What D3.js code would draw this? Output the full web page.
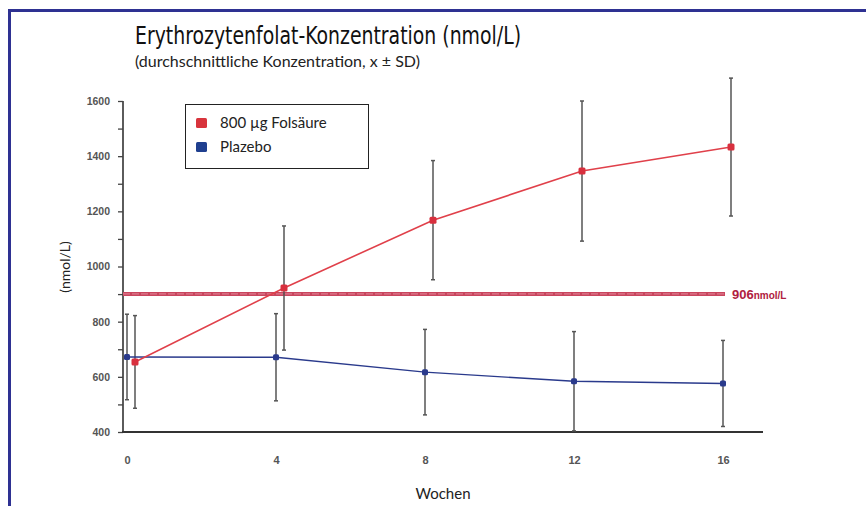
<!DOCTYPE html>
<html><head><meta charset="utf-8">
<script src="https://cdn.jsdelivr.net/npm/d3@7"></script>
<style>body{margin:0;background:#fff}svg{display:block}</style>
</head><body>
<svg id="c" width="866" height="506"></svg>
<script>
const weeks = [0, 4, 8, 12, 16];
const folicMean = [654, 922, 1168, 1346, 1433];
const folicSD = [168, 225, 216, 254, 250];
const placeboMean = [672, 671, 617, 584, 576];
const placeboSD = [155, 158, 155, 180, 156];
const yTicks = [400, 600, 800, 1000, 1200, 1400, 1600];
const yMinorTicks = [500, 700, 900, 1100, 1300, 1500];
const xTicks = [0, 4, 8, 12, 16];
const refValue = 906;
const seriesNames = ["800 µg Folsäure", "Plazebo"];

const svg = d3.select("#c");
const x = d3.scaleLinear().domain([0, 16]).range([127, 723]);
const y = d3.scaleLinear().domain([400, 1600]).range([432, 101]);
const redDodge = 8;
const red = "#e0404a", blue = "#2a3a8c";

// frame
svg.append("line").attr("x1", 9).attr("x2", 866).attr("y1", 10.5).attr("y2", 10.5).attr("stroke", "#2e3192").attr("stroke-width", 3);
svg.append("line").attr("x1", 9.5).attr("x2", 9.5).attr("y1", 9).attr("y2", 506).attr("stroke", "#2e3192").attr("stroke-width", 3);

// title
svg.append("text").attr("x", 135).attr("y", 44).text("Erythrozytenfolat-Konzentration  (nmol/L)")
  .attr("font-family", "DejaVu Sans Condensed, Liberation Sans Narrow, sans-serif").attr("font-stretch", "condensed")
  .attr("font-size", 25).attr("fill", "#111")
  .attr("textLength", 386).attr("lengthAdjust", "spacingAndGlyphs");
svg.append("text").attr("x", 135).attr("y", 67).text("(durchschnittliche Konzentration, x ± SD)")
  .attr("font-family", "Lato, Open Sans, sans-serif").attr("font-size", 14.5).attr("fill", "#222")
  .attr("textLength", 285).attr("lengthAdjust", "spacingAndGlyphs");

// y axis
const yAxis = d3.axisLeft(y).tickValues(yTicks).tickSize(5).tickFormat(d3.format("d"));
const gy = svg.append("g").attr("transform", "translate(123,0)").call(yAxis);
gy.select(".domain").attr("stroke", "#333").attr("stroke-width", 1.6).attr("d", `M0,${y(1600)}V${y(400)}`);
gy.selectAll(".tick line").attr("stroke", "#444").attr("stroke-width", 1.3);
gy.selectAll(".tick text").attr("font-family", "Liberation Sans, Arial, sans-serif").attr("font-weight", "bold")
  .attr("font-size", 10.5).attr("fill", "#555").attr("x", -13);
const gyMinor = svg.append("g").attr("transform", "translate(123,0)").call(d3.axisLeft(y).tickValues(yMinorTicks).tickSize(5).tickFormat(""));
gyMinor.select(".domain").remove();
gyMinor.selectAll(".tick line").attr("stroke", "#444").attr("stroke-width", 1.3);

// x axis
const xAxis = d3.axisBottom(x).tickValues(xTicks).tickSize(0).tickFormat(d3.format("d"));
const gx = svg.append("g").attr("transform", `translate(0,${y(400)})`).call(xAxis);
gx.select(".domain").attr("stroke", "#333").attr("stroke-width", 2).attr("d", `M122,0H763`);
gx.selectAll(".tick text").attr("font-family", "Liberation Sans, Arial, sans-serif").attr("font-weight", "bold")
  .attr("font-size", 11).attr("fill", "#555").attr("dy", 0).attr("y", 32);

// axis titles
svg.append("text").attr("transform", "translate(70,267) rotate(-90)").attr("text-anchor", "middle")
  .text("(nmol/L)").attr("font-family", "Lato, Open Sans, sans-serif").attr("font-size", 14).attr("fill", "#222");
svg.append("text").attr("x", 443).attr("y", 499).attr("text-anchor", "middle")
  .text("Wochen").attr("font-family", "Lato, Open Sans, sans-serif").attr("font-size", 15).attr("fill", "#222");

// reference line
const ry = y(refValue) + 1.5;
svg.append("line").attr("x1", x(0) - 4).attr("x2", 725).attr("y1", ry).attr("y2", ry)
  .attr("stroke", "#c9465e").attr("stroke-width", 4);
svg.append("line").attr("x1", x(0) - 4).attr("x2", 725).attr("y1", ry).attr("y2", ry)
  .attr("stroke", "#dc7a8e").attr("stroke-width", 1.2).attr("stroke-dasharray", "7,2");
const refText = svg.append("text").attr("x", 732).attr("y", ry + 5).attr("fill", "#b02040")
  .attr("font-family", "Liberation Sans, Arial, sans-serif").attr("font-weight", "bold");
refText.append("tspan").attr("font-size", 13).text(String(refValue));
refText.append("tspan").attr("font-size", 10).text("nmol/L");

// error bars
function errBars(means, sds, dx, cls) {
  const g = svg.append("g").attr("class", cls);
  weeks.forEach((w, i) => {
    const cx = x(w) + dx;
    const top = y(means[i] + sds[i]), bot = y(means[i] - sds[i]);
    g.append("line").attr("x1", cx).attr("x2", cx).attr("y1", top).attr("y2", bot).attr("stroke", "#555").attr("stroke-width", 1.5);
    g.append("line").attr("x1", cx - 2).attr("x2", cx + 2).attr("y1", top).attr("y2", top).attr("stroke", "#555").attr("stroke-width", 1.5);
    g.append("line").attr("x1", cx - 2).attr("x2", cx + 2).attr("y1", bot).attr("y2", bot).attr("stroke", "#555").attr("stroke-width", 1.5);
  });
}
errBars(placeboMean, placeboSD, 0, "eb-p");
errBars(folicMean, folicSD, redDodge, "eb-f");

// lines
const lineP = d3.line().x((d, i) => x(weeks[i])).y(d => y(d));
const lineF = d3.line().x((d, i) => x(weeks[i]) + redDodge).y(d => y(d));
svg.append("path").attr("d", lineP(placeboMean)).attr("fill", "none").attr("stroke", blue).attr("stroke-width", 1.4);
svg.append("path").attr("d", lineF(folicMean)).attr("fill", "none").attr("stroke", red).attr("stroke-width", 1.6);

// markers
svg.append("g").selectAll("rect").data(placeboMean).join("rect")
  .attr("x", (d, i) => x(weeks[i]) - 3).attr("y", d => y(d) - 3).attr("width", 6).attr("height", 6).attr("rx", 1.5).attr("fill", blue);
svg.append("g").selectAll("rect").data(folicMean).join("rect")
  .attr("x", (d, i) => x(weeks[i]) + redDodge - 3.5).attr("y", d => y(d) - 3.5).attr("width", 7).attr("height", 7).attr("rx", 1.5).attr("fill", "#d8303e");

// legend
const lg = svg.append("g");
lg.append("rect").attr("x", 185.5).attr("y", 104.5).attr("width", 183).attr("height", 64).attr("fill", "#fff").attr("stroke", "#222").attr("stroke-width", 1);
const legColors = ["#d8343c", "#1f3f8f"];
seriesNames.forEach((n, i) => {
  lg.append("rect").attr("x", 196).attr("y", 118 + i * 24).attr("width", 11).attr("height", 10).attr("rx", 1.5).attr("fill", legColors[i]);
  lg.append("text").attr("x", 220).attr("y", 128 + i * 24).text(n)
    .attr("font-family", "Lato, Open Sans, sans-serif").attr("font-size", 15).attr("fill", "#222");
});
</script>
</body></html>
